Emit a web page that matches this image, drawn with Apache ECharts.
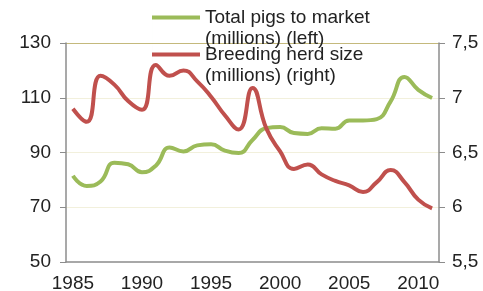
<!DOCTYPE html>
<html>
<head>
<meta charset="UTF-8">
<title>pigs</title>
<script src="https://cdn.jsdelivr.net/npm/echarts@6/dist/echarts.min.js"></script>
<style>
  html, body { margin: 0; padding: 0; background: #fff; }
  #chart { width: 483px; height: 291px; }
</style>
</head>
<body>
<div id="chart"></div>
<script type="text/javascript">
// years on the x axis
var years = ['1985','1986','1987','1988','1989','1990','1991','1992','1993','1994',
             '1995','1996','1997','1998','1999','2000','2001','2002','2003','2004',
             '2005','2006','2007','2008','2009','2010','2011'];
// total pigs to market, millions (left axis)
var pigsToMarket = [81.5, 77.8, 79.4, 86.3, 85.7, 82.8, 85.2, 91.8, 90.4, 92.6,
                    93.0, 90.7, 89.8, 94.6, 98.9, 99.3, 97.1, 96.8, 98.9, 98.7,
                    101.7, 101.7, 102.2, 108.7, 117.6, 112.9, 109.9];
// breeding herd size, millions (right axis)
var breedingHerd = [6.90, 6.78, 7.20, 7.12, 6.97, 6.89, 7.30, 7.20, 7.25, 7.15,
                    7.01, 6.84, 6.71, 7.09, 6.72, 6.51, 6.35, 6.39, 6.30, 6.24,
                    6.20, 6.14, 6.23, 6.34, 6.23, 6.07, 5.99];
var seriesNames = ['Total pigs to market\n(millions) (left)', 'Breeding herd size\n(millions) (right)'];

var font = 'Liberation Sans, Arial, sans-serif';
var axisGrey = '#8c8c8c';
// legend icon: a thick bar near the top of a tall box, so it sits on the first text line
var legendIcon = 'path://M0,0L0.01,0L0.01,38L0,38Z M0,6.5L48,6.5L48,10.5L0,10.5Z';

var myChart = echarts.init(document.getElementById('chart'));
myChart.setOption({
    animation: false,
    grid: { left: 66, right: 44, top: 43, bottom: 29, outerBoundsMode: 'none', containLabel: false },
    legend: {
        orient: 'vertical',
        left: 147,
        top: 2,
        itemWidth: 48,
        itemHeight: 38,
        itemGap: -5,
        icon: legendIcon,
        textStyle: { fontFamily: font, fontSize: 19, color: '#222', lineHeight: 21 },
        data: seriesNames
    },
    xAxis: {
        type: 'category',
        data: years,
        boundaryGap: true,
        axisLine: { lineStyle: { color: axisGrey, width: 1.5 } },
        axisTick: { inside: true, length: 5, lineStyle: { color: axisGrey } },
        axisLabel: {
            interval: 4,
            margin: 12,
            fontFamily: font, fontSize: 19, color: '#222'
        }
    },
    yAxis: [{
        type: 'value',
        min: 50, max: 130, interval: 20,
        axisLine: { show: true, lineStyle: { color: axisGrey, width: 1.5 } },
        axisTick: { show: true, length: 6, lineStyle: { color: axisGrey } },
        axisLabel: { margin: 15, fontFamily: font, fontSize: 19, color: '#222' },
        splitLine: {
            lineStyle: { color: ['rgba(0,0,0,0)', '#f2f0dc', '#f2f0dc', '#f2f0dc', '#c4b97c'], width: 1 }
        }
    }, {
        type: 'value',
        min: 5.5, max: 7.5, interval: 0.5,
        position: 'right',
        axisLine: { show: true, lineStyle: { color: axisGrey, width: 1.5 } },
        axisTick: { show: true, length: 6, lineStyle: { color: axisGrey } },
        axisLabel: {
            margin: 13, fontFamily: font, fontSize: 19, color: '#222',
            formatter: function (v) { return String(v).replace('.', ','); }
        },
        splitLine: { show: false }
    }],
    series: [{
        name: seriesNames[0],
        type: 'line',
        yAxisIndex: 0,
        data: pigsToMarket,
        smooth: 0.5,
        symbol: 'none',
        itemStyle: { color: '#9bbb59' },
        lineStyle: { color: '#9bbb59', width: 4 }
    }, {
        name: seriesNames[1],
        type: 'line',
        yAxisIndex: 1,
        data: breedingHerd,
        smooth: 0.5,
        symbol: 'none',
        itemStyle: { color: '#c0504d' },
        lineStyle: { color: '#c0504d', width: 4 }
    }]
});
</script>
</body>
</html>
